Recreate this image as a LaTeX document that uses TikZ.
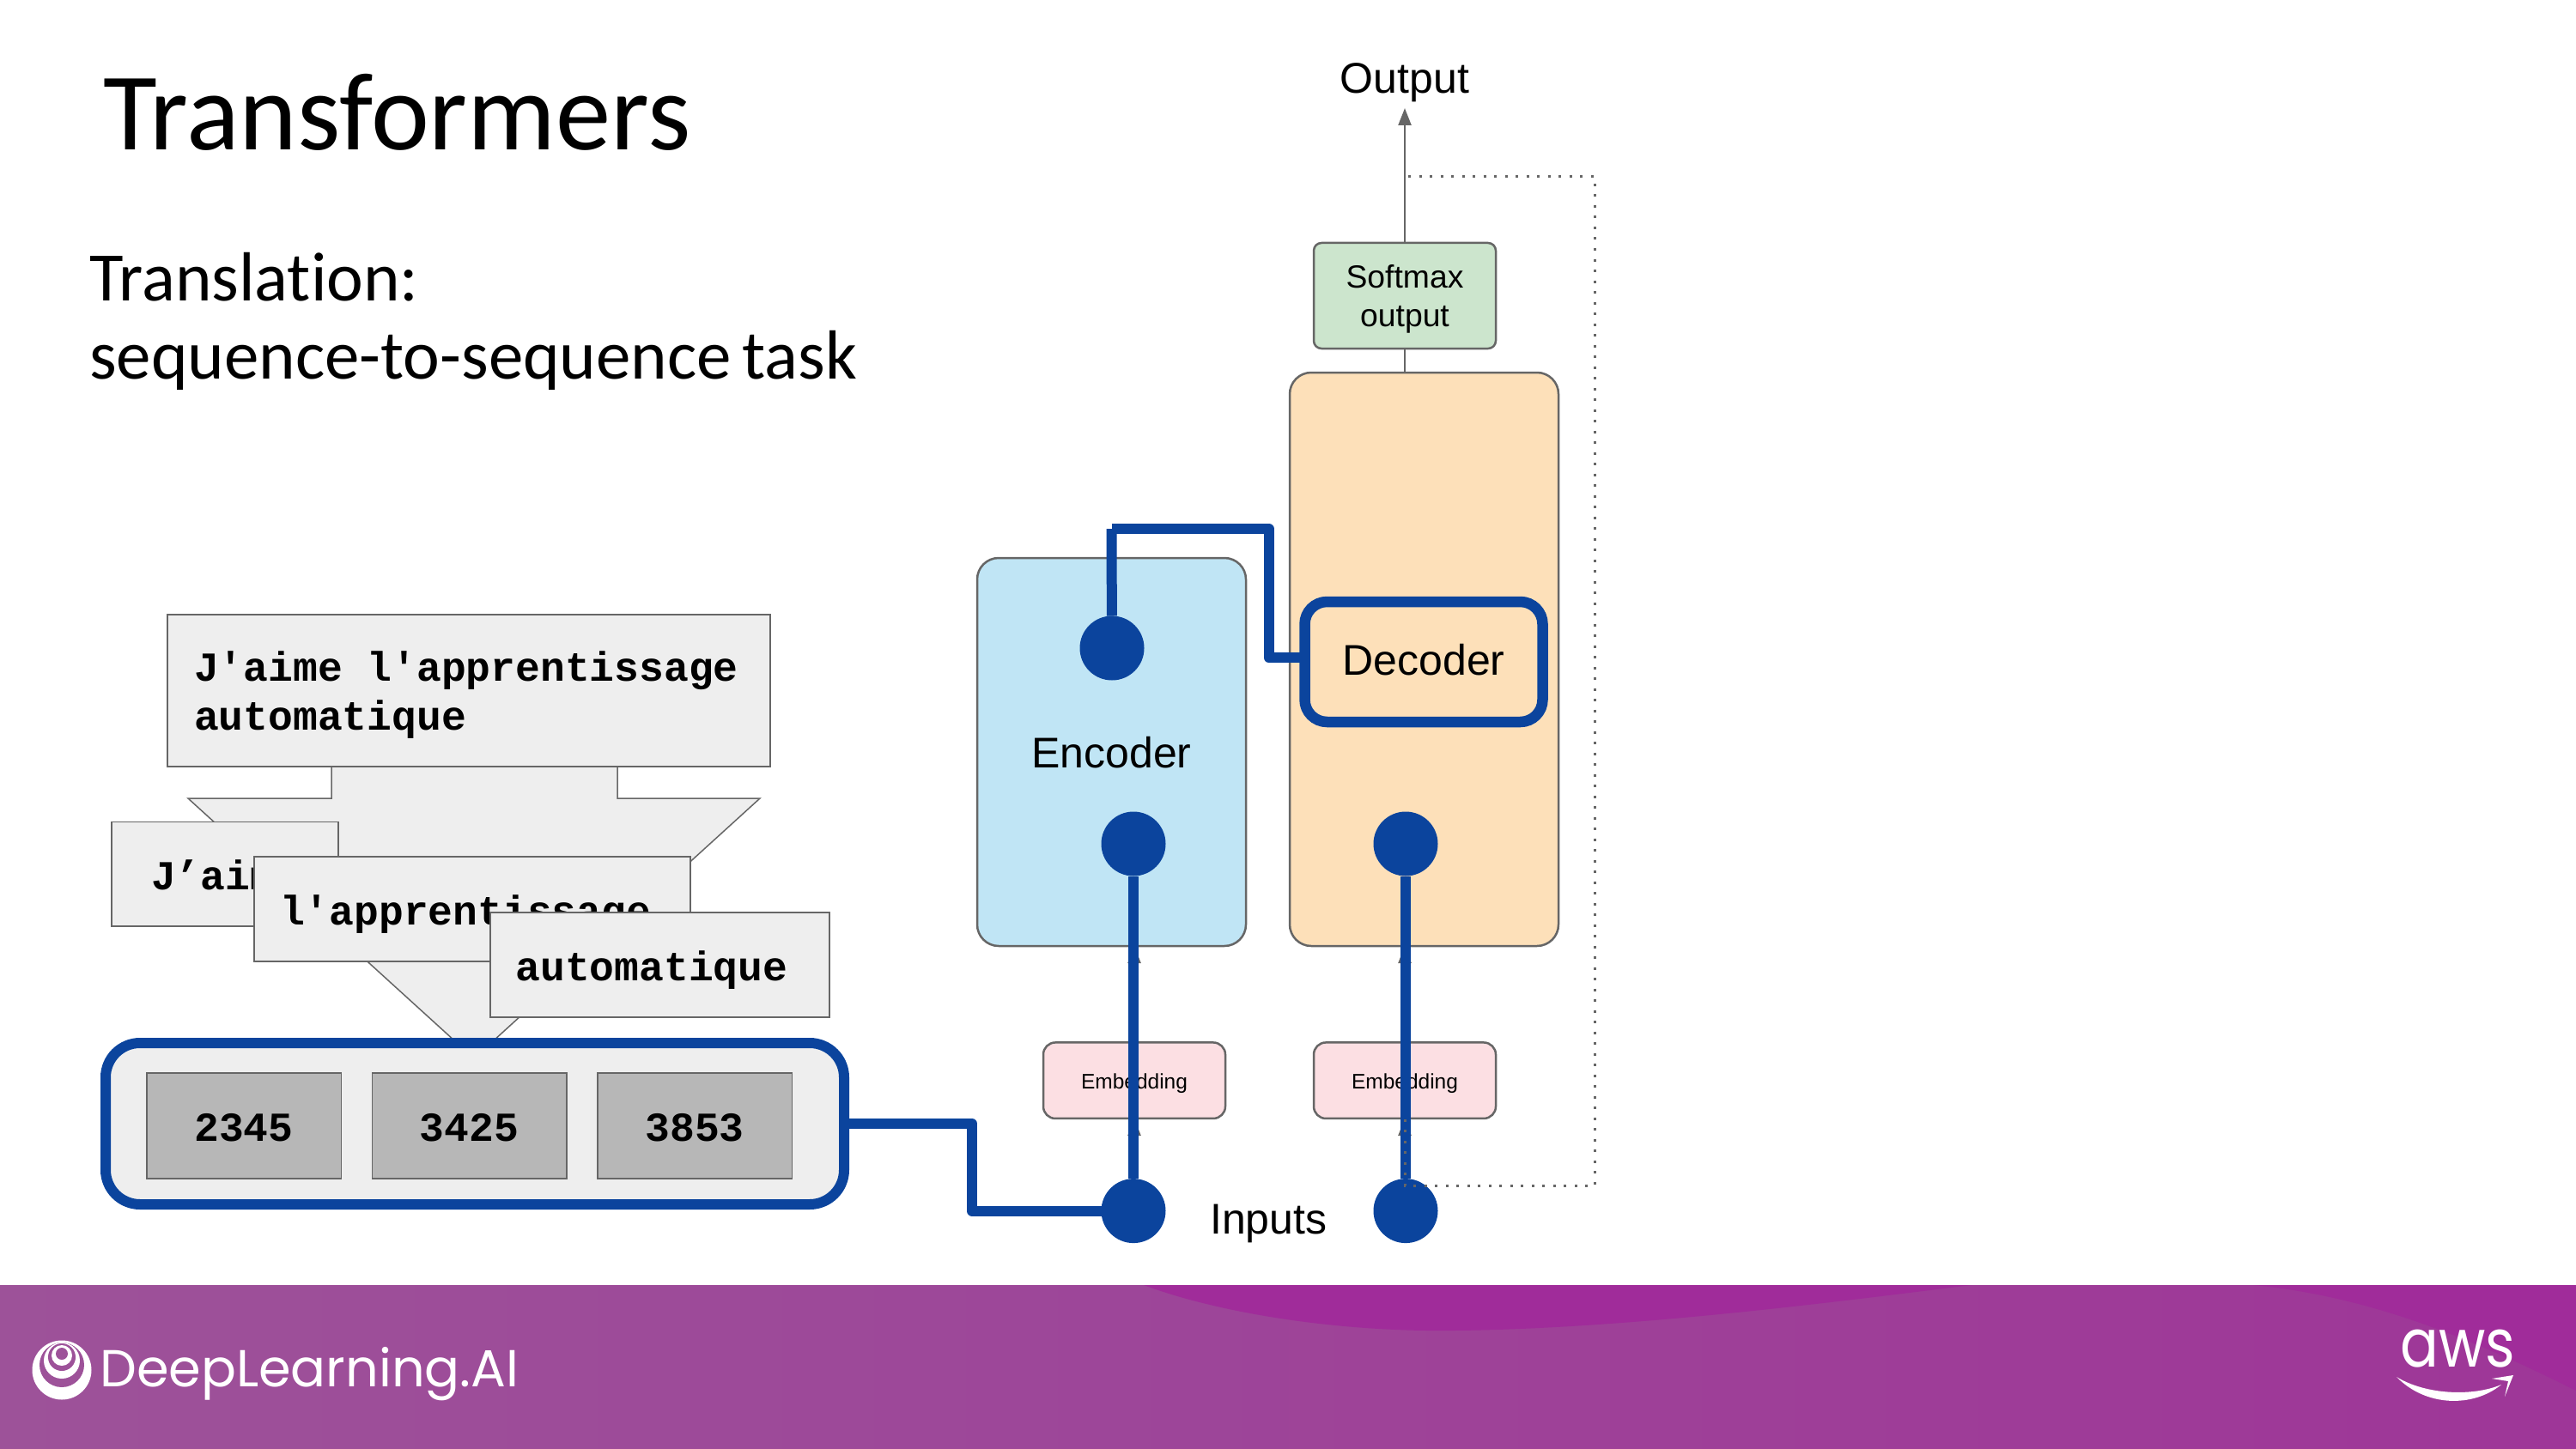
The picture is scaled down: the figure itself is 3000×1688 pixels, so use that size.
\documentclass[tikz,border=0pt]{standalone}
\usepackage{fontspec}
\usetikzlibrary{arrows.meta}
\setmainfont{Liberation Sans}
\newfontfamily\slidefont{Carlito}[Ligatures=NoCommon]
\newfontfamily\wordfont{Liberation Mono}[BoldFont={Liberation Mono Bold}]
\newfontfamily\brandfont{Poppins}
\newcommand{\widegap}{\spaceskip=28.8pt\relax}
\newcommand{\tightgap}{\spaceskip=12.5pt\relax}

\definecolor{linkblue}{HTML}{0B449D}
\definecolor{edgegray}{HTML}{666666}
\definecolor{wordfill}{HTML}{EEEEEE}
\definecolor{idfill}{HTML}{B7B7B7}
\definecolor{encfill}{HTML}{C0E5F5}
\definecolor{decfill}{HTML}{FDE0B9}
\definecolor{softfill}{HTML}{CCE5CD}
\definecolor{embfill}{HTML}{FCDFE3}
\definecolor{bandleft}{HTML}{9D5299}
\definecolor{bandright}{HTML}{9E3698}
\definecolor{bandwave}{HTML}{A02C9A}

\tikzstyle{wordbox} = [rectangle, draw=edgegray, fill=wordfill, line width=1.5pt, outer sep=0pt, align=left, inner ysep=0pt,
    text height=37pt, text depth=0pt, font=\wordfont\bfseries\fontsize{48}{56.4}\selectfont]
\tikzstyle{idbox} = [rectangle, draw=edgegray, fill=idfill, line width=1.5pt, inner sep=0pt, outer sep=0pt, minimum width=226.5pt, minimum height=123pt,
    text height=35pt, text depth=0pt, font=\wordfont\bfseries\fontsize{48}{56.4}\selectfont]
\tikzstyle{block} = [rectangle, rounded corners=25pt, draw=edgegray, line width=2.5pt, inner sep=0pt, outer sep=0pt,
    font=\fontsize{50}{60}\selectfont]
\tikzstyle{small} = [rectangle, rounded corners=14pt, draw=edgegray, line width=2.5pt, inner sep=0pt, outer sep=0pt, minimum width=212pt]
\tikzstyle{knob} = [circle, fill=linkblue, minimum size=75pt, inner sep=0pt, outer sep=0pt]
\tikzstyle{link} = [draw=linkblue, line width=12pt, line join=round]
\tikzstyle{flow} = [draw=edgegray, line width=2.5pt, -{Triangle[length=20pt,width=15pt]}]
\tikzstyle{feedback} = [draw=edgegray, line width=3pt, dash pattern=on 3pt off 9.5pt]
\tikzstyle{caption} = [inner sep=0pt, anchor=base west, font=\fontsize{50}{60}\selectfont]
\tikzstyle{heading} = [inner sep=0pt, anchor=base west, font=\slidefont\fontsize{128.7}{130}\selectfont]
\tikzstyle{subheading} = [inner sep=0pt, anchor=base west, font=\slidefont\fontsize{81}{82}\selectfont]

\begin{document}
\begin{tikzpicture}[x=1pt, y=-1pt]
\useasboundingbox (0,0) rectangle (3000,1688);

\shade[left color=bandleft, right color=bandright] (0,1497) rectangle (3000,1688);
\fill[bandwave] (1332,1497) .. controls (1420,1530) and (1560,1552) .. (1694,1550)
    .. controls (1900,1548) and (2150,1515) .. (2296,1497) -- cycle;
\fill[bandwave] (2624,1497) .. controls (2760,1510) and (2880,1560) .. (3000,1620) -- (3000,1497) -- cycle;

\foreach \cy/\r/\c in {1596/34.5/white, 1590/26/bandleft, 1585/21/white, 1581/16/bandleft, 1579/12/white, 1577/7/bandleft}
    \fill[\c] (72,\cy) circle (\r);
\node[inner sep=0pt, anchor=base west, text=white, font=\brandfont\fontsize{60.6}{60}\selectfont] (brand) at (116,1615) {DeepLearning.AI};
\node[inner sep=0pt, anchor=base west, text=white, font=\brandfont\fontsize{78}{78}\selectfont] (aws) at (2795,1592.5) {\scalebox{.85}[1]{aws}};
\fill[white] (2791,1604) .. controls (2825,1639) and (2880,1640) .. (2913,1613)
    .. controls (2880,1627) and (2825,1625) .. cycle;
\fill[white] (2902,1606) -- (2927,1602) -- (2917,1627) -- (2921,1609) -- cycle;

\node[heading] (title) at (120,174.5) {Transformers};
\node[subheading] (task) at (104,350) {Translation:};
\node[subheading] (taskb) at (104,441) {\tightgap sequence-to-sequence task};

\draw[edgegray, fill=wordfill, line width=1.5pt] (386,893) -- (386,930) -- (219,930) -- (552,1233) -- (885,930) -- (719,930) -- (719,893);
\node[wordbox, text height=, text depth=, inner xsep=31pt, text width=640pt, minimum height=177pt] (sentence) at (546,804.5) {\rule{0pt}{45pt}\widegap J'aime l'apprentissage\\automatique};
\node[wordbox, inner xsep=46pt, text width=172pt, minimum height=121.5pt] (worda) at (262,1018.25) {J’aime};
\node[wordbox, inner xsep=30pt, text width=448pt, minimum height=122pt] (wordb) at (550,1059) {l'apprentissage};
\node[wordbox, inner xsep=29.5pt, text width=336pt, minimum height=122pt] (wordc) at (768.5,1124) {automatique};

\node[rectangle, rounded corners=40pt, draw=linkblue, fill=wordfill, line width=12pt, outer sep=0pt, minimum width=860pt, minimum height=188pt] (tokens) at (553,1309) {};
\node[idbox] (ida) at (284,1311.5) {2345};
\node[idbox] (idb) at (546.5,1311.5) {3425};
\node[idbox] (idc) at (809,1311.5) {3853};

\node[block, fill=encfill, minimum width=313pt, minimum height=452pt, text height=37pt, text depth=0pt] (encoder) at (1294.5,876) {Encoder};
\node[block, fill=decfill, minimum width=313pt, minimum height=668pt] (decoder) at (1658.5,768) {};
\node[small, rounded corners=9pt, fill=softfill, minimum height=123pt, align=center, font=\fontsize{37.3}{44.4}\selectfont] (softmax) at (1636,344.5) {\rule{0pt}{35pt}Softmax\\output};
\node[small, fill=embfill, minimum height=88.5pt, text height=20pt, text depth=0pt, font=\fontsize{24.5}{30}\selectfont] (emba) at (1321,1258.7) {Embedding};
\node[small, fill=embfill, minimum height=88.5pt, text height=20pt, text depth=0pt, font=\fontsize{24.5}{30}\selectfont] (embb) at (1636,1258.7) {Embedding};
\node[rectangle, rounded corners=26pt, draw=linkblue, fill=decfill, line width=12.5pt, outer sep=0pt, minimum width=277pt, minimum height=140pt, text height=31pt, text depth=0pt, font=\fontsize{50}{60}\selectfont] (stage) at (1658,771) {Decoder};

\node[caption, anchor=base] (output) at (1636,109) {Output};
\node[caption] (inputs) at (1409,1437.5) {Inputs};
\coordinate (outtip) at (1636,126);
\coordinate (loop) at (1640,206);
\coordinate (bend) at (1294.5,616);

\draw[flow] (softmax.north) -- (outtip);
\draw[draw=edgegray, line width=2.5pt] (softmax.south) -- (softmax.south |- decoder.north);
\draw[flow] (emba.north) -- (emba.north |- encoder.south);
\draw[flow] (embb.north) -- (embb.north |- decoder.south);
\draw[flow] (1321,1385) -- (emba.south);
\draw[flow] (1636,1385) -- (embb.south);

\node[knob] (srcin) at (1320,1410.6) {};
\node[knob] (tgtin) at (1637,1410.6) {};
\node[knob] (encin) at (1320,983) {};
\node[knob] (decin) at (1637,983) {};
\node[knob] (encout) at (1295,755) {};

\draw[link] (tokens.east) -- ++(149,0) |- (srcin.west);
\draw[link] (srcin) -- (encin);
\draw[link] (tgtin) -- (decin);
\draw[link] (encout) -- (bend);
\draw[link] (bend) -- ++(183,0) |- ([yshift=5pt]stage.west);

\draw[feedback] (loop) -- ++(217,0) -- ++(0,1175) -- ++(-221,0) -- (embb.south);
\end{tikzpicture}
\end{document}
